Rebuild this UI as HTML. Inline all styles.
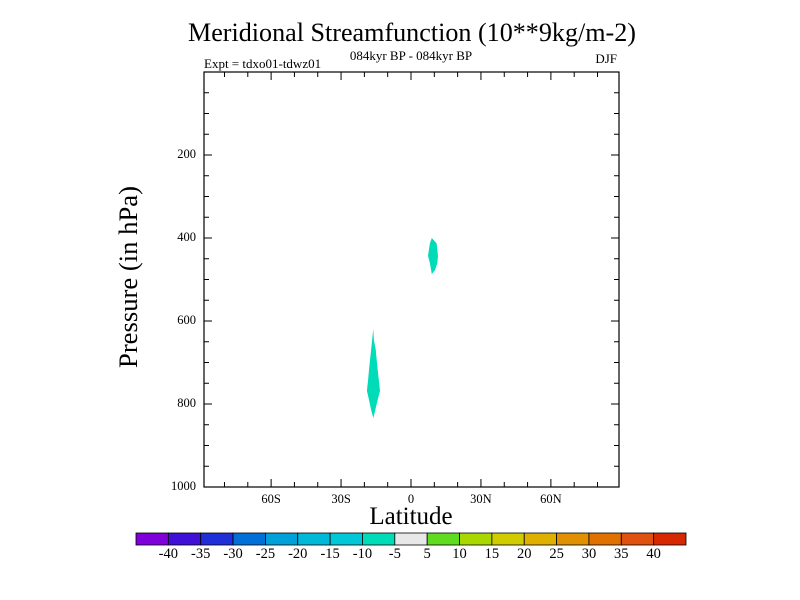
<!DOCTYPE html>
<html><head><meta charset="utf-8"><style>
html,body{margin:0;padding:0;background:#fff}
svg{display:block;font-family:"Liberation Serif",serif}
</style></head><body>
<svg id="chart" width="800" height="600" viewBox="0 0 800 600">
<text x="412" y="41" font-size="26" text-anchor="middle" textLength="448" lengthAdjust="spacingAndGlyphs">Meridional Streamfunction (10**9kg/m-2)</text>
<text x="411" y="60" font-size="13" text-anchor="middle">084kyr BP - 084kyr BP</text>
<text x="204" y="68" font-size="13">Expt = tdxo01-tdwz01</text>
<text x="617" y="63" font-size="13" text-anchor="end">DJF</text>
<text transform="translate(137,277) rotate(-90)" font-size="26" text-anchor="middle" textLength="182" lengthAdjust="spacingAndGlyphs">Pressure (in hPa)</text>
<text x="411" y="524" font-size="25" text-anchor="middle">Latitude</text>
<g id="blobs"></g>
<g id="axes"></g>
<g id="colorbar"></g>
</svg>
<script>
const latTicks=[-60,-30,0,30,60];
const latTickLabels=["60S","30S","0","30N","60N"];
const presTicks=[200,400,600,800,1000];
const presTickLabels=["200","400","600","800","1000"];
const blob1Lat=[-16.15,-15.9,-15.1,-14.7,-14.3,-13.8,-13.3,-14.3,-15.3,-16.15,-17.1,-18,-18.9,-18.4,-18,-17.6,-17.1,-16.7];
const blob1Pres=[619,646,670,694,718,742,768,790,814,834,814,790,768,742,718,694,670,646];
const blob2Lat=[8.9,11.0,11.6,11.3,10.3,8.9,8.6,8.1,7.3,8.1];
const blob2Pres=[400,413,443,461,477,487,477,461,443,413];
const levelLabels=["-40","-35","-30","-25","-20","-15","-10","-5","5","10","15","20","25","30","35","40"];
const levelColors=["#8000dc","#4010d8","#2030d8","#0070d8","#00a0d8","#00b8d8","#00c8d8","#00dcb8","#e8e8e8","#60dc20","#a8d800","#d0cc00","#e0b000","#e09000","#e07000","#e05010","#d82800"];

const L=204,R=619,T=72,B=487;
const xs=lat=>411+lat*(R-L)/178;
const ys=p=>T+p*(B-T)/1000;
const NS="http://www.w3.org/2000/svg";
function mk(tag,attrs,parent){const e=document.createElementNS(NS,tag);for(const k in attrs)e.setAttribute(k,attrs[k]);parent.appendChild(e);return e;}

const bl=document.getElementById('blobs');
[[blob1Lat,blob1Pres,'contour-region-south'],[blob2Lat,blob2Pres,'contour-region-north']].forEach(([la,pr,nm])=>{
  const pts=la.map((v,i)=>xs(v).toFixed(1)+','+ys(pr[i]).toFixed(1)).join(' ');
  const p=mk('polygon',{points:pts,fill:'#00dcb8'},bl);
  
  
});

const ax=document.getElementById('axes');
const frame=mk('rect',{x:L,y:T,width:R-L,height:B-T,fill:'none',stroke:'#000','stroke-width':1.2},ax);


for(let lat=-80;lat<=80;lat+=10){
  const x=xs(lat);const len=(lat%30===0)?8:5;
  mk('line',{x1:x,y1:B,x2:x,y2:B-len,stroke:'#000'},ax);
  mk('line',{x1:x,y1:T,x2:x,y2:T+len,stroke:'#000'},ax);
}
for(let p=50;p<1000;p+=50){
  const y=ys(p);const len=(p%200===0)?8:5;
  mk('line',{x1:L,y1:y,x2:L+len,y2:y,stroke:'#000'},ax);
  mk('line',{x1:R,y1:y,x2:R-len,y2:y,stroke:'#000'},ax);
}
latTicks.forEach((v,i)=>{
  const t=mk('text',{x:xs(v),y:B+16,'font-size':12.5,'text-anchor':'middle'},ax);
  t.textContent=latTickLabels[i];
  
  
});
presTicks.forEach((v,i)=>{
  const t=mk('text',{x:L-8,y:ys(v)+3,'font-size':12.5,'text-anchor':'end'},ax);
  t.textContent=presTickLabels[i];
  
  
});

const cb=document.getElementById('colorbar');
const cx0=136,cx1=686,cy=533,ch=12,bw=(cx1-cx0)/levelColors.length;
levelColors.forEach((c,i)=>{
  const r=mk('rect',{x:cx0+i*bw,y:cy,width:bw,height:ch,fill:c,stroke:'#000','stroke-width':0.8},cb);
  
  
});
levelLabels.forEach((s,i)=>{
  const t=mk('text',{x:cx0+(i+1)*bw,y:cy+25,'font-size':14.5,'text-anchor':'middle'},cb);
  t.textContent=s;
  
  
});
</script>
</body></html>
